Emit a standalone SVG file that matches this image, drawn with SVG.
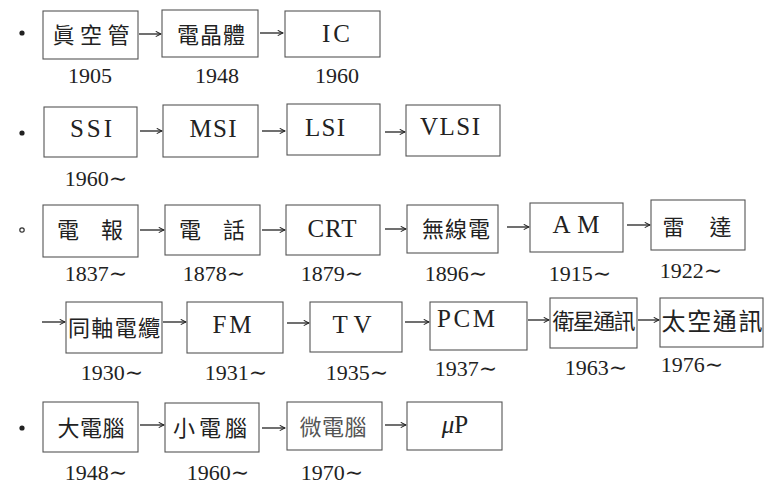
<svg xmlns="http://www.w3.org/2000/svg" width="768" height="484" viewBox="0 0 768 484">
<defs>
<style>
.box{fill:#fff;stroke:#555;stroke-width:1.1}
.cjk{font-family:"Noto Sans CJK TC","Noto Sans CJK JP",sans-serif;font-size:22px;fill:#222;text-anchor:middle}
.lat{font-family:"Liberation Serif","DejaVu Serif",serif;font-size:25px;fill:#222;text-anchor:middle}
.yr{font-family:"Liberation Serif","DejaVu Serif",serif;font-size:22px;fill:#222;text-anchor:middle}
.arr{stroke:#222;stroke-width:1.3;fill:none;marker-end:url(#ah)}
.dot{fill:#222}
</style>
<marker id="ah" viewBox="0 0 8 8" refX="7" refY="4" markerWidth="7" markerHeight="7" markerUnits="userSpaceOnUse" orient="auto">
<path d="M1,1 L7,4 L1,7" fill="none" stroke="#222" stroke-width="1.2"/>
</marker>
</defs>
<rect width="768" height="484" fill="#fff"/>

<g id="bullets">
<circle class="dot" cx="22" cy="33" r="2.6"/>
<circle class="dot" cx="22" cy="133" r="2.6"/>
<circle cx="22" cy="230" r="2.2" fill="none" stroke="#333" stroke-width="1.2"/>
<circle class="dot" cx="22" cy="428" r="2.6"/>
</g>

<g id="connectors">
<line class="arr" x1="139" y1="34" x2="161" y2="34"/>
<line class="arr" x1="260" y1="33" x2="283" y2="33"/>
<line class="arr" x1="140" y1="131" x2="162" y2="131"/>
<line class="arr" x1="262" y1="131" x2="285" y2="131"/>
<line class="arr" x1="385" y1="132" x2="405" y2="132"/>
<line class="arr" x1="140" y1="230" x2="164" y2="230"/>
<line class="arr" x1="262" y1="230" x2="285" y2="230"/>
<line class="arr" x1="385" y1="229" x2="406" y2="229"/>
<line class="arr" x1="507" y1="227" x2="529" y2="227"/>
<line class="arr" x1="627" y1="225" x2="650" y2="225"/>
<line class="arr" x1="42" y1="322" x2="65" y2="322"/>
<line class="arr" x1="163" y1="322" x2="186" y2="322"/>
<line class="arr" x1="287" y1="323" x2="309" y2="323"/>
<line class="arr" x1="405" y1="322" x2="429" y2="322"/>
<line class="arr" x1="528" y1="320" x2="549" y2="320"/>
<line class="arr" x1="638" y1="320" x2="659" y2="320"/>
<line class="arr" x1="140" y1="425" x2="164" y2="425"/>
<line class="arr" x1="262" y1="428" x2="285" y2="428"/>
<line class="arr" x1="385" y1="425" x2="406" y2="425"/>
</g>

<!-- Row 1 -->
<g id="n-vacuum"><rect class="box" x="43" y="11" width="95" height="48"/><text class="cjk" x="91" y="43" textLength="77" lengthAdjust="spacing">眞空管</text><text class="yr" x="90" y="83">1905</text></g>
<g id="n-transistor"><rect class="box" x="162" y="10" width="96" height="47"/><text class="cjk" x="211" y="43" textLength="68" lengthAdjust="spacing">電晶體</text><text class="yr" x="217" y="83">1948</text></g>
<g id="n-ic"><rect class="box" x="285" y="11" width="95" height="46"/><text class="lat" x="336" y="42" textLength="28" lengthAdjust="spacing">IC</text><text class="yr" x="337" y="83">1960</text></g>

<!-- Row 2 -->
<g id="n-ssi"><rect class="box" x="44" y="107" width="93" height="50"/><text class="lat" x="91" y="137" textLength="42" lengthAdjust="spacing">SSI</text><text class="yr" x="96" y="186">1960∼</text></g>
<g id="n-msi"><rect class="box" x="163" y="105" width="95" height="52"/><text class="lat" x="213" y="137" textLength="47" lengthAdjust="spacing">MSI</text></g>
<g id="n-lsi"><rect class="box" x="287" y="104" width="93" height="51"/><text class="lat" x="325" y="136" textLength="40" lengthAdjust="spacing">LSI</text></g>
<g id="n-vlsi"><rect class="box" x="406" y="105" width="94" height="51"/><text class="lat" x="450" y="135" textLength="60" lengthAdjust="spacing">VLSI</text></g>

<!-- Row 3 -->
<g id="n-telegraph"><rect class="box" x="43" y="205" width="95" height="52"/><text class="cjk" x="90" y="238" textLength="66" lengthAdjust="spacing">電報</text><text class="yr" x="96" y="281">1837∼</text></g>
<g id="n-telephone"><rect class="box" x="165" y="205" width="95" height="50"/><text class="cjk" x="212" y="238" textLength="66" lengthAdjust="spacing">電話</text><text class="yr" x="214" y="281">1878∼</text></g>
<g id="n-crt"><rect class="box" x="286" y="205" width="94" height="50"/><text class="lat" x="332" y="237" textLength="49" lengthAdjust="spacing">CRT</text><text class="yr" x="332" y="281">1879∼</text></g>
<g id="n-radio"><rect class="box" x="407" y="205" width="91" height="48"/><text class="cjk" x="456" y="237" textLength="68" lengthAdjust="spacing">無線電</text><text class="yr" x="456" y="281">1896∼</text></g>
<g id="n-am"><rect class="box" x="530" y="203" width="93" height="49"/><text class="lat" x="576" y="233" textLength="47" lengthAdjust="spacing">AM</text><text class="yr" x="580" y="281">1915∼</text></g>
<g id="n-radar"><rect class="box" x="651" y="200" width="94" height="50"/><text class="cjk" x="697" y="235" textLength="69" lengthAdjust="spacing">雷達</text><text class="yr" x="691" y="278">1922∼</text></g>

<!-- Row 4 -->
<g id="n-coax"><rect class="box" x="66" y="302" width="96" height="51"/><text class="cjk" x="114" y="336" textLength="92" lengthAdjust="spacing">同軸電纜</text><text class="yr" x="112" y="380">1930∼</text></g>
<g id="n-fm"><rect class="box" x="187" y="302" width="96" height="51"/><text class="lat" x="232" y="333" textLength="39" lengthAdjust="spacing">FM</text><text class="yr" x="236" y="380">1931∼</text></g>
<g id="n-tv"><rect class="box" x="310" y="302" width="92" height="50"/><text class="lat" x="352" y="333" textLength="39" lengthAdjust="spacing">TV</text><text class="yr" x="357" y="380">1935∼</text></g>
<g id="n-pcm"><rect class="box" x="430" y="302" width="97" height="48"/><text class="lat" x="466" y="327" textLength="58" lengthAdjust="spacing">PCM</text><text class="yr" x="466" y="376">1937∼</text></g>
<g id="n-satellite"><rect class="box" x="550" y="298" width="87" height="50"/><text class="cjk" x="594" y="329" textLength="83" lengthAdjust="spacing">衛星通訊</text><text class="yr" x="596" y="375">1963∼</text></g>
<g id="n-space"><rect class="box" x="660" y="298" width="103" height="49"/><text class="cjk" x="712" y="330" style="font-size:24px" textLength="101" lengthAdjust="spacing">太空通訊</text><text class="yr" x="692" y="372">1976∼</text></g>

<!-- Row 5 -->
<g id="n-mainframe"><rect class="box" x="43" y="402" width="95" height="50"/><text class="cjk" x="91" y="436" textLength="67" lengthAdjust="spacing">大電腦</text><text class="yr" x="96" y="480">1948∼</text></g>
<g id="n-mini"><rect class="box" x="165" y="403" width="94" height="49"/><text class="cjk" x="210" y="436" textLength="74" lengthAdjust="spacing">小電腦</text><text class="yr" x="218" y="480">1960∼</text></g>
<g id="n-micro"><rect class="box" x="287" y="402" width="95" height="48"/><text class="cjk" x="333" y="435" style="fill:#555" textLength="67" lengthAdjust="spacing">微電腦</text><text class="yr" x="332" y="480">1970∼</text></g>
<g id="n-up"><rect class="box" x="407" y="402" width="95" height="48"/><text class="lat" x="455" y="433"><tspan font-style="italic">μ</tspan>P</text></g>
</svg>
